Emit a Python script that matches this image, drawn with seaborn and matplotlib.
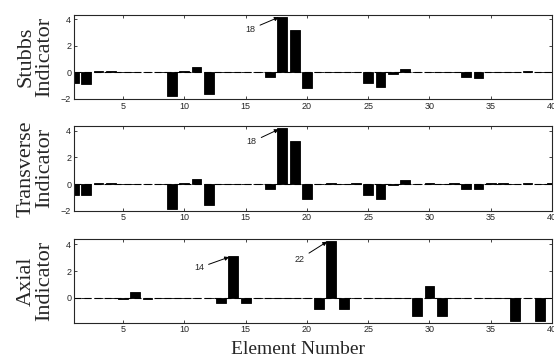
import numpy as np
import matplotlib
matplotlib.use("Agg")
import matplotlib.pyplot as plt
import seaborn as sns

# element numbers and indicator values
elements = np.arange(1, 41)
stubbs = [-0.8, -0.85, 0.07, 0.1, 0, 0, 0, 0, -1.8, 0.1, 0.4, -1.6, 0, 0, 0, 0,
          -0.35, 4.2, 3.2, -1.2, 0, 0.05, 0, 0.05, -0.82, -1.1, -0.1, 0.22, 0, 0.05,
          0, 0.05, -0.38, -0.4, 0.05, 0.05, 0, 0.1, 0, 0.05]
transverse = [-0.8, -0.85, 0.07, 0.1, 0, 0, 0, 0, -1.85, 0.07, 0.4, -1.6, 0, 0, 0, 0,
              -0.35, 4.17, 3.22, -1.14, 0, 0.05, 0, 0.05, -0.81, -1.14, -0.08, 0.28, 0, 0.05,
              0, 0.05, -0.35, -0.35, 0.05, 0.05, 0, 0.07, 0, 0.05]
axial = [0, 0, 0, 0, -0.05, 0.42, -0.05, 0, 0, 0, 0, 0, -0.35, 3.1, -0.35, 0, 0, 0, 0, 0,
         -0.85, 4.27, -0.85, 0, 0, 0, 0, 0, -1.35, 0.92, -1.35, 0, 0, 0, 0, 0,
         -1.7, 0, -1.7, 0]

sns.set_style("ticks")
plt.rcParams['font.family'] = ['Liberation Sans', 'DejaVu Sans']
plt.rcParams['axes.linewidth'] = 0.8

fig = plt.figure(figsize=(5.54, 3.58), dpi=100)
ax1 = fig.add_axes([0.1336, 0.7235, 0.8628, 0.2346])
ax2 = fig.add_axes([0.1336, 0.4115, 0.8628, 0.2366])
ax3 = fig.add_axes([0.1336, 0.0986, 0.8628, 0.2338])

panels = [
    (ax1, stubbs, "Stubbs\nIndicator", (-2, 4.32), [-2, 0, 2, 4]),
    (ax2, transverse, "Transverse\nIndicator", (-2, 4.35), [-2, 0, 2, 4]),
    (ax3, axial, "Axial\nIndicator", (-1.85, 4.4), [0, 2, 4]),
]

for ax, vals, label, ylim, yticks in panels:
    # dashed zero line under the bars
    ax.axhline(0, color='black', lw=0.8, ls=(0, (6.3, 2.7)), zorder=1)
    sns.barplot(x=elements, y=vals, native_scale=True, width=0.8, color='black',
                saturation=1, edgecolor='black', linewidth=0.6, ax=ax, zorder=2)
    ax.set_xlim(1, 40)
    ax.set_ylim(*ylim)
    ax.set_xticks([5, 10, 15, 20, 25, 30, 35, 40])
    ax.set_yticks(yticks)
    ax.tick_params(direction='in', length=2.5, width=0.6, labelsize=6.5,
                   top=True, right=True, pad=2)
    ax.set_xlabel("")
    ax.set_ylabel(label, family='Liberation Serif', fontsize=16, linespacing=0.95)
    ax.yaxis.set_label_coords(-0.042, 0.5)

# arrows pointing at the peaks
arrow = dict(arrowstyle='-|>', color='black', lw=0.7, mutation_scale=6, shrinkA=1, shrinkB=0)
ax1.annotate("18", xy=(17.7, 4.15), xytext=(15.4, 3.25), fontsize=6.5,
             ha='center', va='center', arrowprops=arrow)
ax2.annotate("18", xy=(17.7, 4.1), xytext=(15.5, 3.15), fontsize=6.5,
             ha='center', va='center', arrowprops=arrow)
ax3.annotate("14", xy=(13.65, 3.05), xytext=(11.2, 2.25), fontsize=6.5,
             ha='center', va='center', arrowprops=arrow)
ax3.annotate("22", xy=(21.65, 4.2), xytext=(19.4, 2.9), fontsize=6.5,
             ha='center', va='center', arrowprops=arrow)

fig.text(0.538, 0.012, "Element Number", family='Liberation Serif', fontsize=14,
         ha='center', va='baseline')

fig.savefig("out.png", dpi=100)
